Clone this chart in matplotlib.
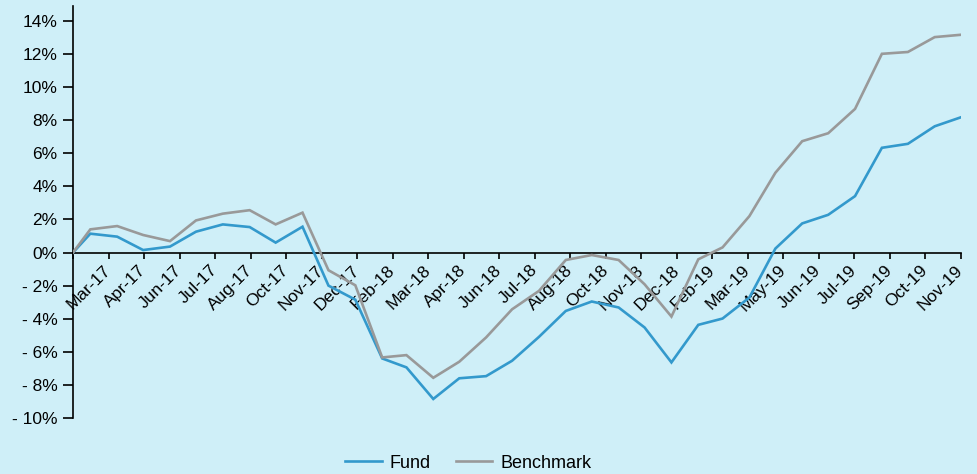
import matplotlib
matplotlib.use("Agg")
import matplotlib.pyplot as plt
import matplotlib.dates as mdates
import numpy as np
import pandas as pd

plt.rcParams['font.family'] = ['Liberation Sans', 'DejaVu Sans']

dates = ["2017-02-08",
         "2017-02-28", "2017-03-31", "2017-04-30", "2017-05-31", "2017-06-30", "2017-07-31",
         "2017-08-31", "2017-09-30", "2017-10-31", "2017-11-30", "2017-12-31",
         "2018-01-31", "2018-02-28", "2018-03-31", "2018-04-30", "2018-05-31", "2018-06-30",
         "2018-07-31", "2018-08-31", "2018-09-30", "2018-10-31", "2018-11-30", "2018-12-31",
         "2019-01-31", "2019-02-28", "2019-03-31", "2019-04-30", "2019-05-31", "2019-06-30",
         "2019-07-31", "2019-08-31", "2019-09-30", "2019-10-31", "2019-11-30"]

fund = [0.0,
        1.14, 0.96, 0.15, 0.36, 1.26, 1.70, 1.54, 0.60, 1.56, -2.00, -2.85,
        -6.40, -6.94, -8.85, -7.60, -7.47, -6.54, -5.10, -3.53, -2.96, -3.32, -4.53, -6.64,
        -4.37, -3.99, -2.72, 0.24, 1.76, 2.28, 3.41, 6.33, 6.57, 7.63, 8.17]

benchmark = [0.0,
             1.40, 1.60, 1.06, 0.69, 1.94, 2.35, 2.56, 1.70, 2.41, -1.07, -1.98,
             -6.34, -6.20, -7.57, -6.60, -5.13, -3.43, -2.32, -0.45, -0.15, -0.45, -1.92, -3.87,
             -0.41, 0.31, 2.20, 4.82, 6.73, 7.21, 8.68, 12.01, 12.12, 13.02, 13.16]

tick_labels = ["Mar-17", "Apr-17", "Jun-17", "Jul-17", "Aug-17", "Oct-17", "Nov-17", "Dec-17",
               "Feb-18", "Mar-18", "Apr-18", "Jun-18", "Jul-18", "Aug-18", "Oct-18", "Nov-18",
               "Dec-18", "Feb-19", "Mar-19", "May-19", "Jun-19", "Jul-19", "Sep-19", "Oct-19",
               "Nov-19"]

yticks = list(range(-10, 15, 2))

bg = "#CFEFF8"
fund_color = "#3399CC"
bench_color = "#999999"

x = mdates.date2num(pd.to_datetime(dates))

fig = plt.figure(figsize=(9.78, 4.74), dpi=100, facecolor=bg)
ax = fig.add_axes([73/978, 1 - 418/474, (960.7 - 73)/978, (418 - 6)/474])
ax.set_facecolor(bg)

ax.plot(x, fund, color=fund_color, lw=1.9, label="Fund", solid_joinstyle='miter', zorder=3)
ax.plot(x, benchmark, color=bench_color, lw=1.9, label="Benchmark", solid_joinstyle='miter', zorder=3)

ax.set_xlim(x[0], x[-1])
ax.set_ylim(-10, 14.9)

ax.spines['top'].set_visible(False)
ax.spines['right'].set_visible(False)
ax.spines['bottom'].set_position(('data', 0))
ax.spines['left'].set_linewidth(1.2)
ax.spines['bottom'].set_linewidth(1.2)

ax.set_yticks(yticks)
ax.set_yticklabels([f"{v}%" if v >= 0 else f"- {abs(v)}%" for v in yticks], fontsize=12.5)
ax.tick_params(axis='y', length=7, width=1.2, pad=4)

xt = np.linspace(x[0], x[-1], len(tick_labels) + 1)
ax.set_xticks(xt)
ax.set_xticklabels([""] + tick_labels, fontsize=12.5, rotation=45, ha='right', va='center',
                   rotation_mode='anchor')
ax.tick_params(axis='x', length=4, width=1.2, pad=7)

fig.legend(loc='center', bbox_to_anchor=(0.479, 1 - 463/474), ncol=2, frameon=False,
           fontsize=13, handlelength=2.0, columnspacing=1.4, handletextpad=0.45)

fig.savefig("out.png", dpi=100, facecolor=bg)
